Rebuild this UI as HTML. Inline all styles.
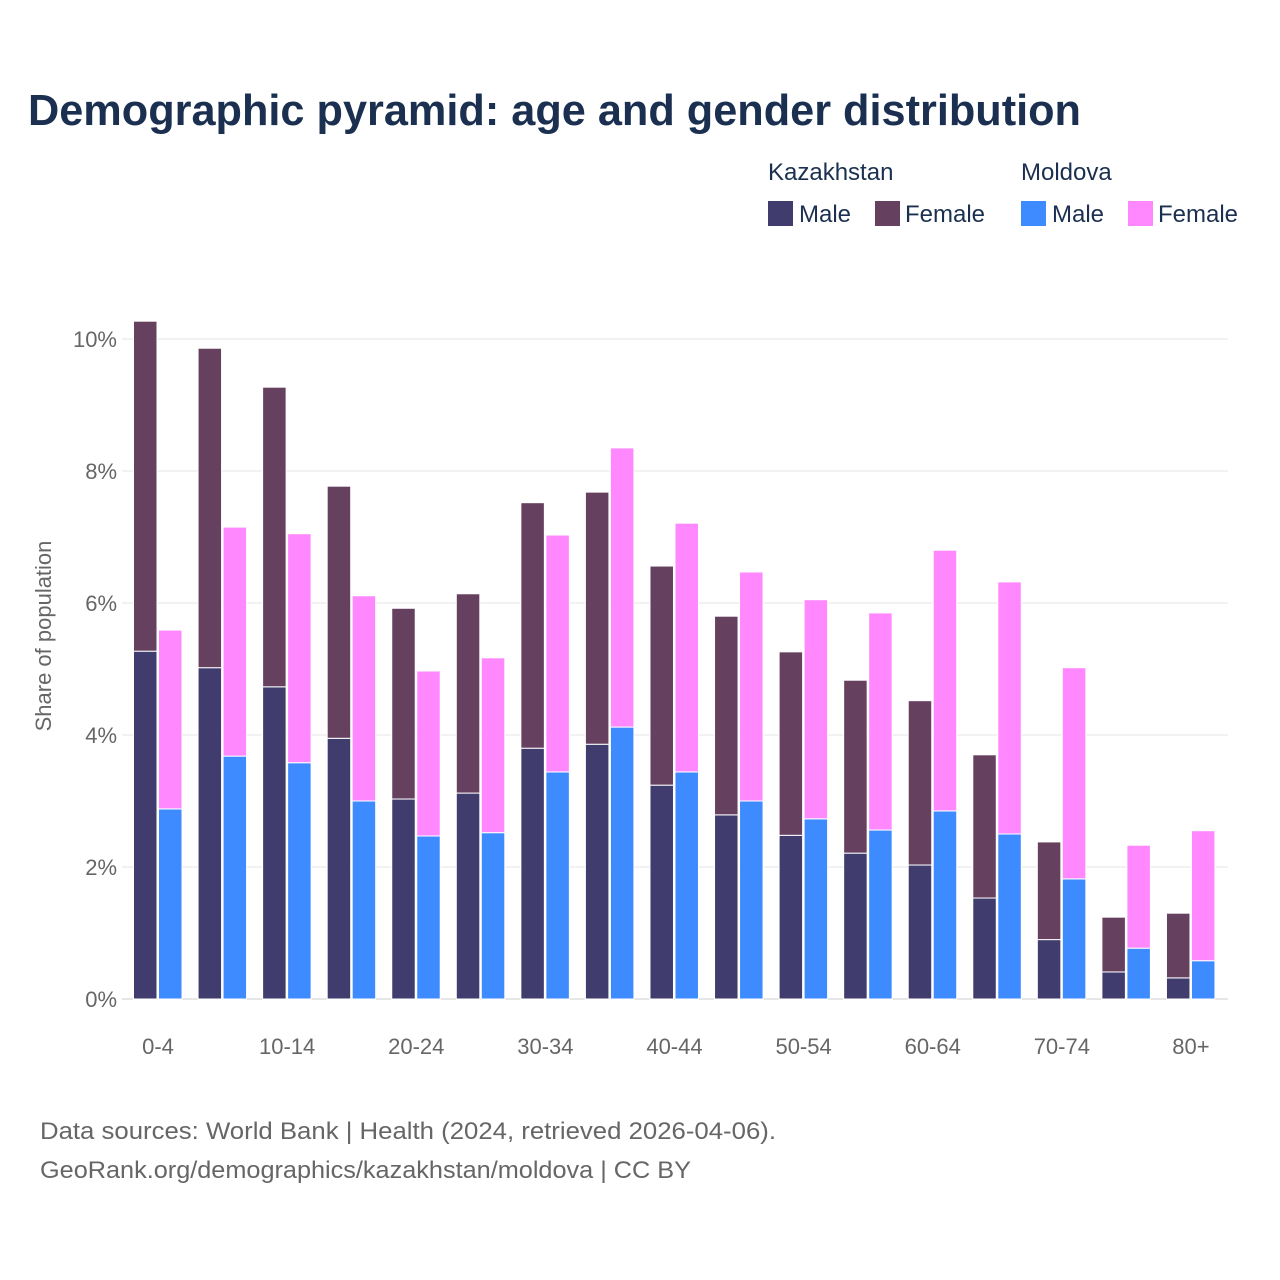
<!DOCTYPE html>
<html><head><meta charset="utf-8">
<style>
body{margin:0;background:#fff;font-family:"Liberation Sans",sans-serif;}
#wrap{position:relative;width:1280px;height:1280px;overflow:hidden;}
</style></head>
<body>
<div id="wrap">
<svg id="chart" width="1280" height="1280" xmlns="http://www.w3.org/2000/svg">
<text x="28" y="125" font-size="44" font-weight="bold" fill="#1b3050" textLength="1053" lengthAdjust="spacingAndGlyphs" font-family="Liberation Sans, sans-serif">Demographic pyramid: age and gender distribution</text>
<g font-size="24" fill="#1b3050">
<text x="768" y="180">Kazakhstan</text>
<text x="1021" y="180">Moldova</text>
<rect x="768" y="201" width="25" height="25" fill="#403d6e"/>
<text x="799" y="222">Male</text>
<rect x="875" y="201" width="25" height="25" fill="#66405f"/>
<text x="905" y="222">Female</text>
<rect x="1021" y="201" width="25" height="25" fill="#3e8bff"/>
<text x="1052" y="222">Male</text>
<rect x="1128" y="201" width="25" height="25" fill="#ff88ff"/>
<text x="1158" y="222">Female</text>
</g>
<text transform="translate(51,636) rotate(-90)" text-anchor="middle" font-size="22" fill="#666">Share of population</text>
<g id="grid"></g>
<g id="bars"></g>
<g id="xlabels"></g>
<g font-size="24" fill="#666">
<text x="40" y="1139" textLength="736" lengthAdjust="spacingAndGlyphs">Data sources: World Bank | Health (2024, retrieved 2026-04-06).</text>
<text x="40" y="1178" textLength="651" lengthAdjust="spacingAndGlyphs">GeoRank.org/demographics/kazakhstan/moldova | CC BY</text>
</g>
</svg>
</div>
<script>
const categories=["0-4","5-9","10-14","15-19","20-24","25-29","30-34","35-39","40-44","45-49","50-54","55-59","60-64","65-69","70-74","75-79","80+"];
const kzMale=[5.27,5.02,4.73,3.95,3.03,3.12,3.80,3.86,3.24,2.79,2.48,2.21,2.03,1.53,0.90,0.41,0.32];
const kzFemale=[5.00,4.84,4.54,3.82,2.89,3.02,3.72,3.82,3.32,3.01,2.78,2.62,2.49,2.17,1.48,0.83,0.98];
const mdMale=[2.88,3.68,3.58,3.00,2.47,2.52,3.44,4.12,3.44,3.00,2.73,2.56,2.85,2.50,1.82,0.77,0.58];
const mdFemale=[2.71,3.47,3.47,3.11,2.50,2.65,3.59,4.23,3.77,3.47,3.32,3.29,3.95,3.82,3.20,1.56,1.97];
const yTicks=[0,2,4,6,8,10];
const NS="http://www.w3.org/2000/svg";
const y0=999,pxPer=66;
function yScale(v){return y0-v*pxPer;}
function xCenter(i){return 158+i*64.56;}
function mk(tag,attrs,parent){const e=document.createElementNS(NS,tag);for(const k in attrs)e.setAttribute(k,attrs[k]);parent.appendChild(e);return e;}
const grid=document.getElementById('grid'),bars=document.getElementById('bars'),xl=document.getElementById('xlabels');
yTicks.forEach(t=>{
  const l=mk('line',{x1:122,x2:1228,y1:yScale(t),y2:yScale(t),stroke:t===0?'#ccc':'#e6e6e6','stroke-width':1},grid);
  
  
  const tx=mk('text',{x:117,y:yScale(t)+8,'text-anchor':'end','font-size':22,fill:'#666'},grid);
  tx.textContent=t+'%';
  
  
});
function seg(x,w,lo,hi,color,name){
  const r=mk('rect',{x:x,width:w,y:yScale(hi),height:yScale(lo)-yScale(hi),fill:color,stroke:'#fff','stroke-width':1},bars);
  
  
}
categories.forEach((c,i)=>{
  const cx=xCenter(i);
  seg(cx-24.5,23.5,0,kzMale[i],'#403d6e','bar-kz-male-'+c);
  seg(cx-24.5,23.5,kzMale[i],kzMale[i]+kzFemale[i],'#66405f','bar-kz-female-'+c);
  seg(cx+0.5,23.5,0,mdMale[i],'#3e8bff','bar-md-male-'+c);
  seg(cx+0.5,23.5,mdMale[i],mdMale[i]+mdFemale[i],'#ff88ff','bar-md-female-'+c);
  if(i%2===0){
    const t=mk('text',{x:cx,y:1054,'text-anchor':'middle','font-size':22,fill:'#666'},xl);
    t.textContent=c;
    
    
  }
});
</script>
</body></html>
